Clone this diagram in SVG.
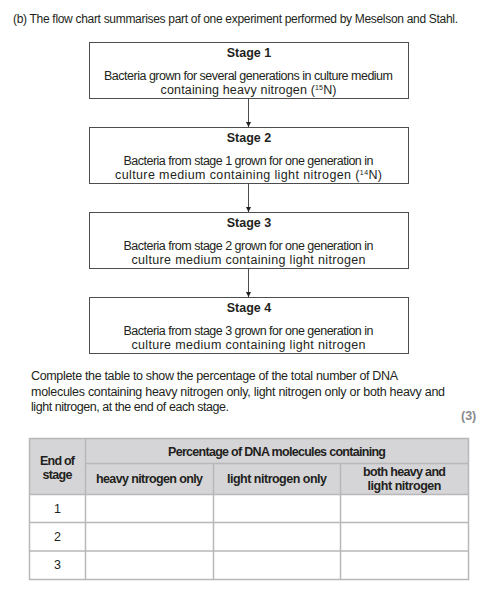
<svg xmlns="http://www.w3.org/2000/svg" width="495" height="597" viewBox="0 0 495 597">
<style>
text{font-family:"Liberation Sans","Noto Sans",sans-serif;font-size:12.5px;fill:#231f20}
.h{font-size:12px}
.b{font-weight:bold}
.c{text-anchor:middle}
.box{fill:#fff;stroke:#4d4d4f;stroke-width:1}
.conn{stroke:#4d4d4f;stroke-width:1;fill:none}
.hd{fill:#d5d5d7}
.grid{stroke:#b8b8ba;stroke-width:1.5;fill:none}
.mk{font-weight:bold;fill:#8a8a8c}
</style>
<defs>
<marker id="ah" markerWidth="6" markerHeight="6" refX="5" refY="3" orient="auto" markerUnits="userSpaceOnUse">
<path d="M0,0.5 L5,3 L0,5.5 Z" fill="#231f20"/>
</marker>
</defs>
<rect width="495" height="597" fill="#fff"/>
<text class="h" x="13" y="23" textLength="445" lengthAdjust="spacing">(b)  The flow chart summarises part of one experiment performed by Meselson and Stahl.</text>

<g id="connectors">
<line class="conn" x1="248.5" y1="98" x2="248.5" y2="127" marker-end="url(#ah)"/>
<line class="conn" x1="248.5" y1="183" x2="248.5" y2="212" marker-end="url(#ah)"/>
<line class="conn" x1="248.5" y1="268" x2="248.5" y2="297" marker-end="url(#ah)"/>
</g>

<g id="stage1">
<rect class="box" x="89.5" y="42.5" width="319" height="56"/>
<text class="b c" x="249" y="57">Stage 1</text>
<text class="c" x="248.5" y="80" textLength="289" lengthAdjust="spacing">Bacteria grown for several generations in culture medium</text>
<text class="c" x="248.5" y="94" textLength="176" lengthAdjust="spacing">containing heavy nitrogen (<tspan font-size="7" dy="-4">15</tspan><tspan dy="4">N)</tspan></text>
</g>
<g id="stage2">
<rect class="box" x="89.5" y="127.5" width="319" height="56"/>
<text class="b c" x="249" y="142">Stage 2</text>
<text class="c" x="248.5" y="165" textLength="250" lengthAdjust="spacing">Bacteria from stage 1 grown for one generation in</text>
<text class="c" x="248.5" y="179" textLength="267" lengthAdjust="spacing">culture medium containing light nitrogen (<tspan font-size="7" dy="-4">14</tspan><tspan dy="4">N)</tspan></text>
</g>
<g id="stage3">
<rect class="box" x="89.5" y="212.5" width="319" height="56"/>
<text class="b c" x="249" y="227">Stage 3</text>
<text class="c" x="248.5" y="250" textLength="250" lengthAdjust="spacing">Bacteria from stage 2 grown for one generation in</text>
<text class="c" x="248.5" y="264" textLength="234" lengthAdjust="spacing">culture medium containing light nitrogen</text>
</g>
<g id="stage4">
<rect class="box" x="89.5" y="297.5" width="319" height="56"/>
<text class="b c" x="249" y="312">Stage 4</text>
<text class="c" x="248.5" y="335" textLength="250" lengthAdjust="spacing">Bacteria from stage 3 grown for one generation in</text>
<text class="c" x="248.5" y="349" textLength="234" lengthAdjust="spacing">culture medium containing light nitrogen</text>
</g>

<text x="31" y="380" textLength="367" lengthAdjust="spacing">Complete the table to show the percentage of the total number of DNA</text>
<text x="31" y="396" textLength="414" lengthAdjust="spacing">molecules containing heavy nitrogen only, light nitrogen only or both heavy and</text>
<text x="31" y="411" textLength="198" lengthAdjust="spacing">light nitrogen, at the end of each stage.</text>
<text class="mk" x="461" y="420">(3)</text>

<g id="table">
<rect class="hd" x="29.5" y="438.5" width="439" height="56"/>
<path class="grid" d="M29.5,438.5 H468.5 V579.5 H29.5 Z M85.5,438.5 V579.5 M85.5,463.5 H468.5 M213.5,463.5 V579.5 M340.5,463.5 V579.5 M29.5,494.5 H468.5 M29.5,522.5 H468.5 M29.5,551 H468.5"/>
<text class="b c" x="57.5" y="465" textLength="35" lengthAdjust="spacing">End of</text>
<text class="b c" x="57.5" y="479" textLength="30" lengthAdjust="spacing">stage</text>
<text class="b c" x="277" y="456" textLength="218" lengthAdjust="spacing">Percentage of DNA molecules containing</text>
<text class="b c" x="149.5" y="483" textLength="107" lengthAdjust="spacing">heavy nitrogen only</text>
<text class="b c" x="277" y="483" textLength="100" lengthAdjust="spacing">light nitrogen only</text>
<text class="b c" x="404.5" y="476" textLength="83" lengthAdjust="spacing">both heavy and</text>
<text class="b c" x="404.5" y="490" textLength="74" lengthAdjust="spacing">light nitrogen</text>
<text class="c" x="57.5" y="513">1</text>
<text class="c" x="57.5" y="541">2</text>
<text class="c" x="57.5" y="569">3</text>
</g>
</svg>
